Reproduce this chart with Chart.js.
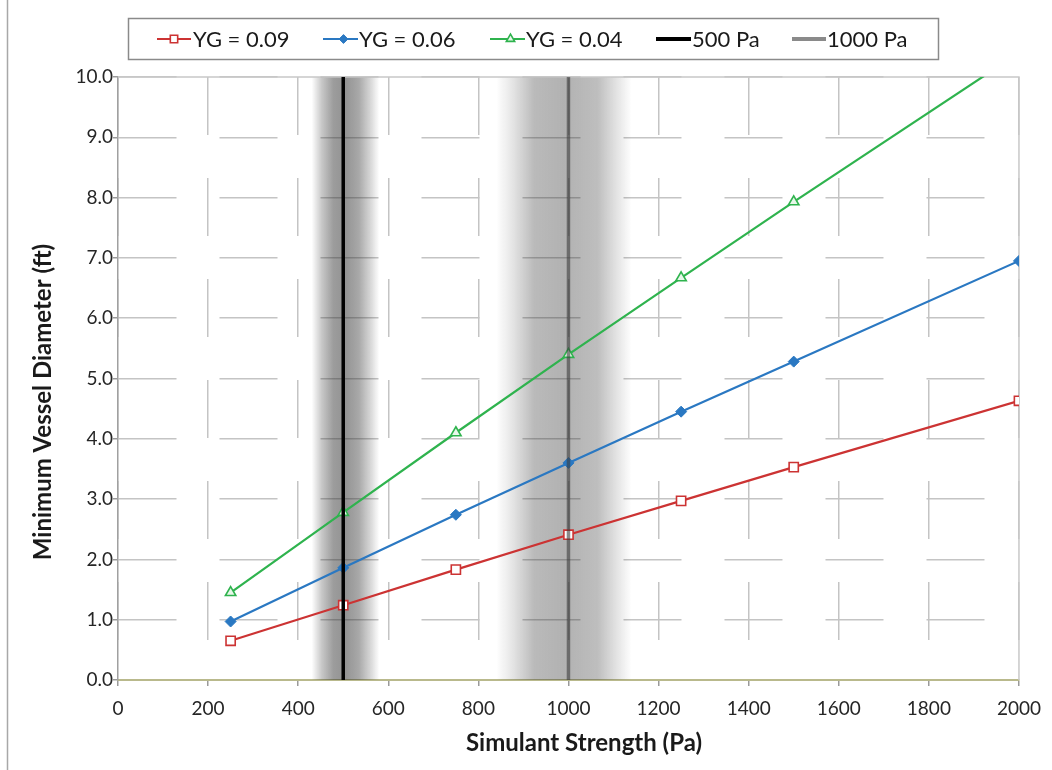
<!DOCTYPE html>
<html><head><meta charset="utf-8">
<script src="https://cdn.jsdelivr.net/npm/chart.js@4.4.0/dist/chart.umd.min.js"></script>
<style>html,body{margin:0;padding:0;background:#fff;}#wrap{position:relative;width:1052px;height:770px;}</style>
</head><body><div id="wrap"><canvas id="c" width="1052" height="770"></canvas></div>
<script>
// ---- data ----
const strengthPa = [250, 500, 750, 1000, 1250, 1500, 2000];
const yg009 = [0.65, 1.24, 1.83, 2.41, 2.97, 3.53, 4.63];
const yg006 = [0.97, 1.86, 2.74, 3.60, 4.45, 5.28, 6.95];
const yg004 = [1.45, 2.78, 4.10, 5.40, 6.67, 7.93, 10.40];
const seriesLabels = ['YG = 0.09', 'YG = 0.06', 'YG = 0.04'];
const refLinesPa = [500, 1000];
const refLineLabels = ['500 Pa', '1000 Pa'];
const bandRangesPa = [[430, 580], [840, 1140]];
const xAxisTitle = 'Simulant Strength (Pa)';
const yAxisTitle = 'Minimum Vessel Diameter (ft)';
const xMin = 0, xMax = 2000, xStep = 200;
const yMin = 0, yMax = 10, yStep = 1;

const FONT = 'Lato, "Open Sans", sans-serif';
const toPts = (xs, ys) => xs.map((x, i) => ({x: x, y: ys[i]}));
const vline = (x) => [{x: x, y: yMin}, {x: x, y: yMax}];

const colors = {red: '#cc3333', blue: '#2a78c2', green: '#2fb34e', black: '#000000', gray: 'rgba(60,60,60,0.6)'};

const datasets = [
  {label: seriesLabels[0], data: toPts(strengthPa, yg009), borderColor: colors.red, backgroundColor: '#ffffff',
   borderWidth: 2.2, pointStyle: 'rect', pointRadius: 6.5, pointBorderWidth: 1.6, pointBorderColor: colors.red, pointBackgroundColor: '#fff', order: 3},
  {label: seriesLabels[1], data: toPts(strengthPa, yg006), borderColor: colors.blue, backgroundColor: colors.blue,
   borderWidth: 2.2, pointStyle: 'rectRot', pointRadius: 5.5, pointBorderWidth: 1, pointBackgroundColor: colors.blue, order: 2},
  {label: seriesLabels[2], data: toPts(strengthPa, yg004), borderColor: colors.green, backgroundColor: '#e6f6e6',
   borderWidth: 2.2, pointStyle: 'triangle', pointRadius: 6, pointBorderWidth: 1.6, pointBackgroundColor: '#e8f7ea', order: 1},
  {label: refLineLabels[0], data: vline(refLinesPa[0]), borderColor: colors.black, borderWidth: 3.5, pointRadius: 0, order: 0},
  {label: refLineLabels[1], data: vline(refLinesPa[1]), borderColor: colors.gray, borderWidth: 3.5, pointRadius: 0, order: 0}
];

const bandPlugin = {
  id: 'bands',
  beforeDatasetsDraw(chart) {
    const {ctx, chartArea: a, scales: {x}} = chart;
    ctx.save();
    ctx.beginPath(); ctx.rect(a.left, a.top, a.right - a.left, a.bottom - a.top); ctx.clip();
    const stopsList = [
      [[0,0],[0.15,0.26],[0.32,0.46],[0.5,0.5],[0.7,0.40],[0.86,0.2],[1,0]],
      [[0,0],[0.12,0.12],[0.28,0.32],[0.5,0.36],[0.75,0.30],[0.88,0.14],[1,0]]
    ];
    bandRangesPa.forEach((r, i) => {
      const x0 = x.getPixelForValue(r[0]), x1 = x.getPixelForValue(r[1]);
      const g = ctx.createLinearGradient(x0, 0, x1, 0);
      stopsList[i].forEach(s => g.addColorStop(s[0], 'rgba(40,40,40,' + s[1] + ')'));
      ctx.fillStyle = g;
      ctx.fillRect(x0, a.top, x1 - x0, a.bottom - a.top);
    });
    ctx.restore();
    // plot area border (top and right)
    ctx.save();
    ctx.strokeStyle = '#c8c8c8'; ctx.lineWidth = 1.5;
    ctx.beginPath();
    ctx.moveTo(a.left, a.top); ctx.lineTo(a.right, a.top); ctx.lineTo(a.right, a.bottom);
    ctx.stroke();
    ctx.restore();
  }
};

const decorPlugin = {
  id: 'decor',
  afterDraw(chart) {
    const {ctx} = chart;
    ctx.save();
    // outer frame left edge
    ctx.strokeStyle = '#a8a8a8'; ctx.lineWidth = 1.5;
    ctx.beginPath(); ctx.moveTo(7.5, 0); ctx.lineTo(7.5, 770); ctx.stroke();
    // axis titles
    ctx.fillStyle = '#1a1a1a';
    ctx.font = 'bold 24px ' + FONT;
    ctx.textAlign = 'center'; ctx.textBaseline = 'middle';
    ctx.fillText(xAxisTitle, 584, 743);
    ctx.translate(43, 402); ctx.rotate(-Math.PI / 2);
    ctx.fillText(yAxisTitle, 0, 0);
    ctx.restore();

    // legend
    ctx.save();
    ctx.fillStyle = '#fff';
    ctx.fillRect(128, 18, 810, 41);
    ctx.strokeStyle = '#8a8a8a'; ctx.lineWidth = 1.5;
    ctx.strokeRect(128.5, 18.5, 810, 41);
    const items = [
      {ds: 0, x0: 157, x1: 191, tx: 193},
      {ds: 1, x0: 323, x1: 358, tx: 359},
      {ds: 2, x0: 490, x1: 525, tx: 526},
      {ds: 3, x0: 656, x1: 691, tx: 692},
      {ds: 4, x0: 792, x1: 826, tx: 827}
    ];
    const cy = 39;
    items.forEach(it => {
      const d = chart.data.datasets[it.ds];
      ctx.strokeStyle = d.borderColor;
      ctx.lineWidth = it.ds >= 3 ? 4 : 2;
      ctx.beginPath(); ctx.moveTo(it.x0, cy); ctx.lineTo(it.x1, cy); ctx.stroke();
      if (d.pointRadius > 0) {
        ctx.fillStyle = d.pointBackgroundColor;
        ctx.strokeStyle = d.borderColor;
        ctx.lineWidth = d.pointBorderWidth;
        Chart.helpers.drawPoint(ctx, {pointStyle: d.pointStyle, radius: d.pointRadius * 0.8, borderWidth: d.pointBorderWidth},
          (it.x0 + it.x1) / 2 + (it.ds === 0 ? 0 : 3), cy);
      }
      ctx.fillStyle = '#1a1a1a';
      ctx.font = '22px ' + FONT;
      ctx.textAlign = 'left'; ctx.textBaseline = 'middle';
      ctx.fillText(d.label, it.tx, cy + 1);
    });
    ctx.restore();
  }
};

const chart = new Chart(document.getElementById('c'), {
  type: 'line',
  data: {datasets: datasets},
  options: {
    responsive: false,
    animation: false,
    devicePixelRatio: 1,
    layout: {padding: {left: 0, right: 32, top: 77, bottom: 0}},
    plugins: {legend: {display: false}, tooltip: {enabled: false}},
    elements: {line: {tension: 0}},
    scales: {
      x: {
        type: 'linear', min: xMin, max: xMax,
        ticks: {stepSize: xStep, color: '#262626', font: {family: FONT, size: 19}, padding: 11, maxRotation: 0,
                callback: v => String(v)},
        grid: {color: '#c4c4c4', lineWidth: 1.5, tickLength: 6, tickColor: '#9a9a9a', tickWidth: 1.5},
        border: {color: '#b9b98c', width: 2, dash: [58, 43]},
        afterFit(s) { s.height = 90; }
      },
      y: {
        type: 'linear', min: yMin, max: yMax,
        ticks: {stepSize: yStep, color: '#262626', font: {family: FONT, size: 19}, padding: 0,
                callback: v => Number(v).toFixed(1)},
        grid: {color: '#c4c4c4', lineWidth: 1.5, tickLength: 5, tickColor: '#9a9a9a', tickWidth: 1.5},
        border: {color: '#a0a0a0', width: 1.5, dash: [58, 43]},
        afterFit(s) { s.width = 118; }
      }
    }
  },
  plugins: [bandPlugin, decorPlugin]
});
</script>
</body></html>
